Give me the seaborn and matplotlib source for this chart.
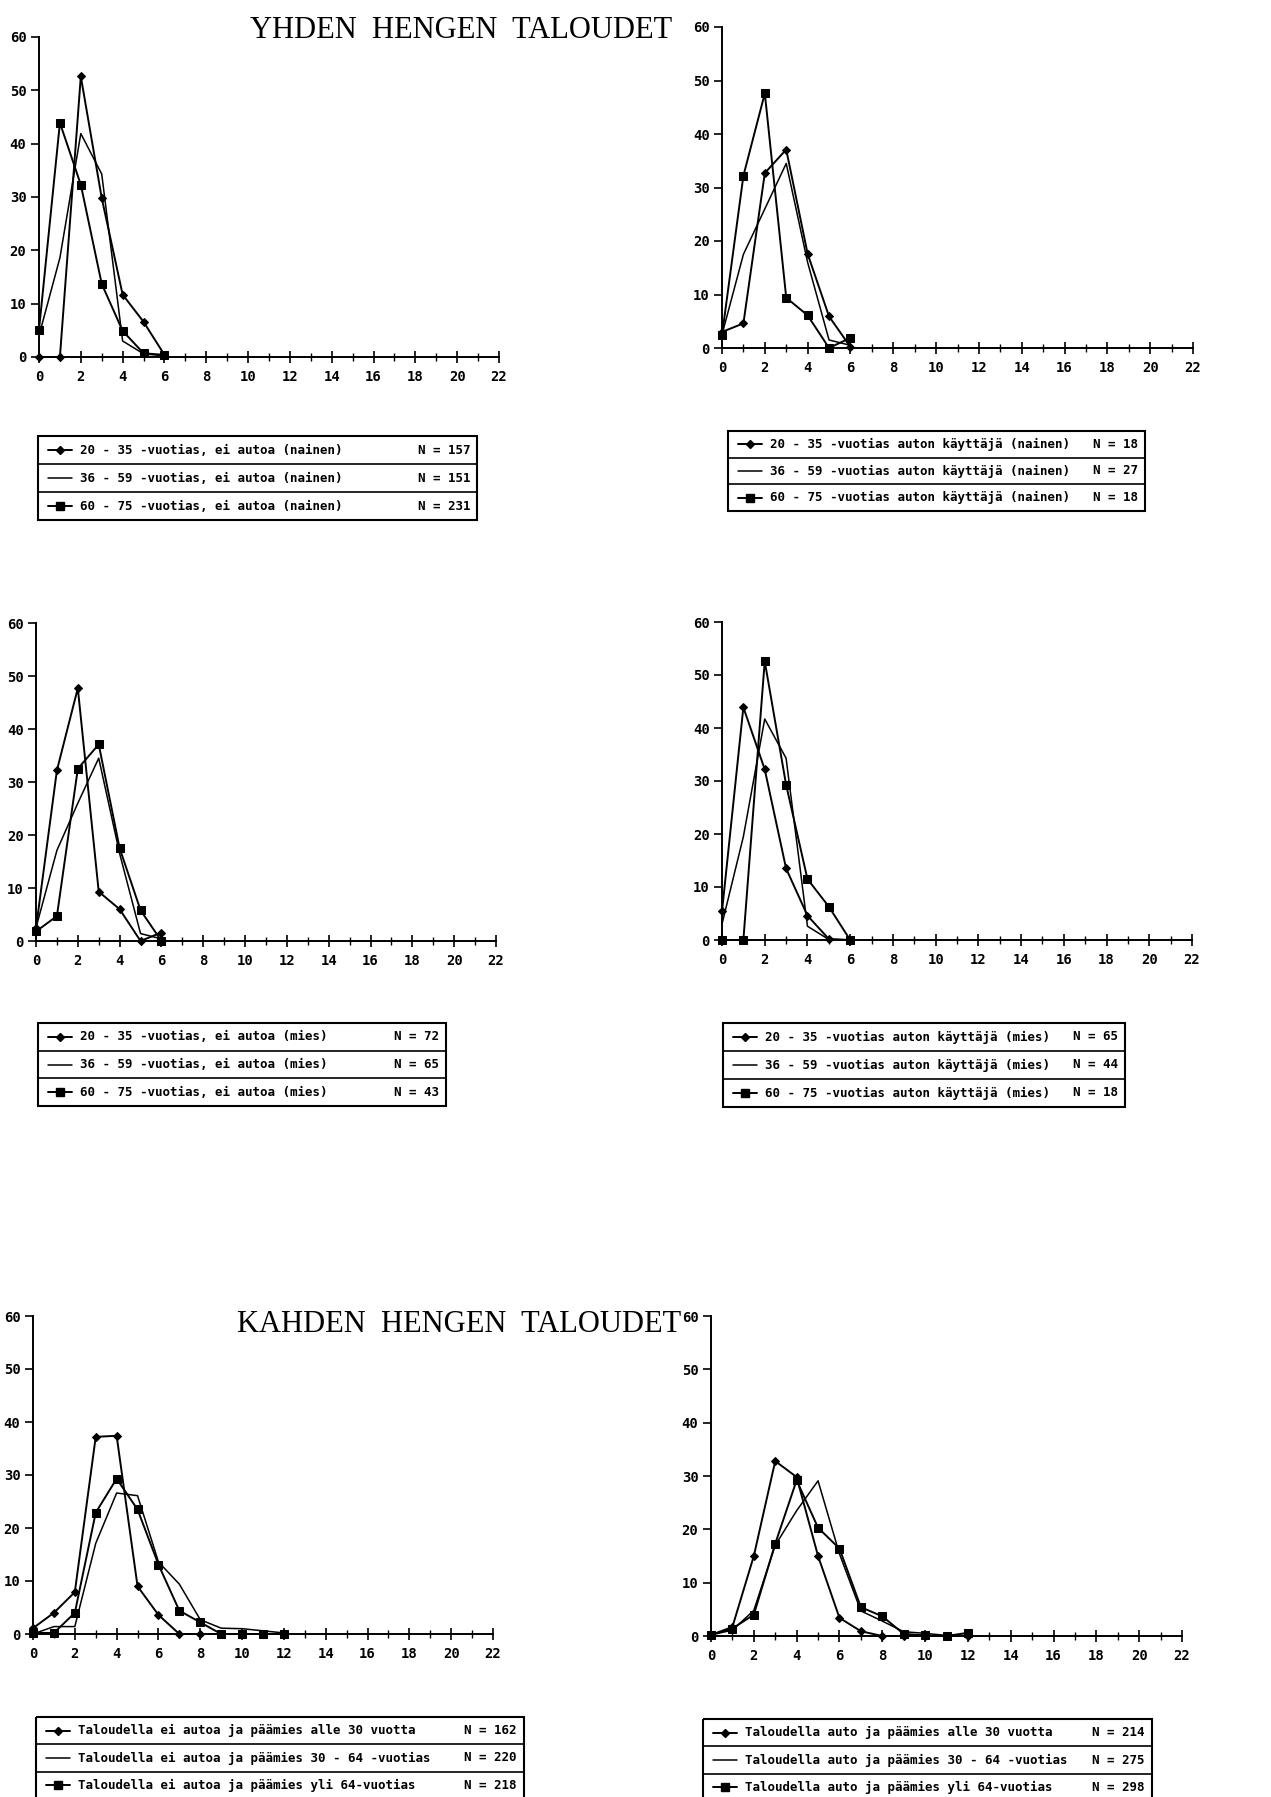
import matplotlib
matplotlib.use("Agg")
import matplotlib.pyplot as plt
from matplotlib.patches import Rectangle
from matplotlib.lines import Line2D
import numpy as np
import pandas as pd
import seaborn as sns

# ---------------- data ----------------
x_short = [0, 1, 2, 3, 4, 5, 6]
x_long = [0, 1, 2, 3, 4, 5, 6, 7, 8, 9, 10, 11, 12]

# YHDEN HENGEN TALOUDET - nainen, ei autoa
p1_a = [0.0, 0.0, 52.6, 29.8, 11.7, 6.6, 0.4]
p1_b = [4.0, 18.6, 41.9, 34.3, 3.0, 0.6, 0.2]
p1_c = [5.1, 43.9, 32.3, 13.7, 4.9, 0.7, 0.4]
# nainen, auton käyttäjä
p2_a = [3.0, 4.6, 32.7, 37.1, 17.6, 5.9, 0.2]
p2_b = [2.5, 17.5, 26.0, 34.5, 16.0, 1.5, 0.5]
p2_c = [2.4, 32.2, 47.6, 9.4, 6.1, 0.0, 1.9]
# mies, ei autoa
p3_a = [2.4, 32.2, 47.7, 9.3, 6.0, 0.0, 1.6]
p3_b = [2.5, 17.1, 26.0, 34.5, 16.5, 1.4, 0.4]
p3_c = [1.8, 4.7, 32.5, 37.1, 17.5, 5.8, 0.0]
# mies, auton käyttäjä
p4_a = [5.4, 43.9, 32.2, 13.5, 4.6, 0.2, 0.0]
p4_b = [3.0, 19.5, 41.7, 34.3, 2.6, 0.1, 0.0]
p4_c = [0.0, 0.0, 52.6, 29.3, 11.5, 6.3, 0.0]
# KAHDEN HENGEN TALOUDET - ei autoa
p5_a = [1.1, 4.0, 7.9, 37.2, 37.4, 9.0, 3.6, 0.0, 0.0, 0.0, 0.0, 0.0, 0.0]
p5_b = [0.0, 1.4, 1.4, 17.1, 26.6, 26.1, 13.6, 9.4, 2.7, 1.1, 1.0, 0.6, 0.2]
p5_c = [0.2, 0.2, 4.0, 22.9, 29.3, 23.5, 13.1, 4.4, 2.2, 0.0, 0.0, 0.0, 0.0]
# auto
p6_a = [0.2, 1.7, 15.0, 32.8, 29.8, 15.0, 3.4, 0.9, 0.0, 0.0, 0.0, 0.0, 0.0]
p6_b = [0.2, 1.1, 4.8, 17.0, 23.5, 29.1, 15.4, 4.7, 2.8, 0.8, 0.5, 0.1, 0.1]
p6_c = [0.2, 1.4, 4.0, 17.3, 29.2, 20.3, 16.4, 5.4, 3.7, 0.4, 0.1, 0.0, 0.6]

x_ticks = [0, 2, 4, 6, 8, 10, 12, 14, 16, 18, 20, 22]
x_ticklabels = [str(t) for t in x_ticks]
y_ticks = [0, 10, 20, 30, 40, 50, 60]
y_ticklabels = [str(t) for t in y_ticks]

legend1 = ["20 - 35 -vuotias, ei autoa (nainen)",
           "36 - 59 -vuotias, ei autoa (nainen)",
           "60 - 75 -vuotias, ei autoa (nainen)"]
n1 = ["N = 157", "N = 151", "N = 231"]
legend2 = ["20 - 35 -vuotias auton käyttäjä (nainen)",
           "36 - 59 -vuotias auton käyttäjä (nainen)",
           "60 - 75 -vuotias auton käyttäjä (nainen)"]
n2 = ["N = 18", "N = 27", "N = 18"]
legend3 = ["20 - 35 -vuotias, ei autoa (mies)",
           "36 - 59 -vuotias, ei autoa (mies)",
           "60 - 75 -vuotias, ei autoa (mies)"]
n3 = ["N = 72", "N = 65", "N = 43"]
legend4 = ["20 - 35 -vuotias auton käyttäjä (mies)",
           "36 - 59 -vuotias auton käyttäjä (mies)",
           "60 - 75 -vuotias auton käyttäjä (mies)"]
n4 = ["N = 65", "N = 44", "N = 18"]
legend5 = ["Taloudella ei autoa ja päämies alle 30 vuotta",
           "Taloudella ei autoa ja päämies 30 - 64 -vuotias",
           "Taloudella ei autoa ja päämies yli 64-vuotias"]
n5 = ["N = 162", "N = 220", "N = 218"]
legend6 = ["Taloudella auto ja päämies alle 30 vuotta",
           "Taloudella auto ja päämies 30 - 64 -vuotias",
           "Taloudella auto ja päämies yli 64-vuotias"]
n6 = ["N = 214", "N = 275", "N = 298"]

title_top = "YHDEN  HENGEN  TALOUDET"
title_bottom = "KAHDEN  HENGEN  TALOUDET"

# ---------------- style ----------------
sns.set_theme(style="ticks")
plt.rcParams['font.family'] = ['DejaVu Sans Mono', 'DejaVu Sans']
plt.rcParams['axes.facecolor'] = 'white'
plt.rcParams['figure.facecolor'] = 'white'
plt.rcParams['text.color'] = 'black'
plt.rcParams['xtick.color'] = 'black'
plt.rcParams['ytick.color'] = 'black'
plt.rcParams['axes.edgecolor'] = 'black'

W, H = 1271, 1797
fig = plt.figure(figsize=(W / 100, H / 100), dpi=100)

STYLES = [
    dict(marker='D', markersize=3.6, lw=1.4),
    dict(marker=None, lw=1.1),
    dict(marker='s', markersize=5.3, lw=1.4),
]

MONO = dict(family='DejaVu Sans Mono', weight='bold', color='black')


def panel(px_left, px_right, px_top, px_bottom, xs, series):
    ax = fig.add_axes([px_left / W, 1 - px_bottom / H,
                       (px_right - px_left) / W, (px_bottom - px_top) / H])
    for ys, st in zip(series, STYLES):
        df = pd.DataFrame({"x": xs, "y": ys})
        kw = dict(color='black', linewidth=st['lw'], clip_on=False)
        if st['marker']:
            kw.update(marker=st['marker'], markersize=st['markersize'],
                      markeredgecolor='black', markerfacecolor='black')
        sns.lineplot(data=df, x="x", y="y", ax=ax, estimator=None,
                     sort=False, **kw)
    ax.set_xlim(0, 22)
    ax.set_ylim(0, 60)
    ax.set_xticks(x_ticks)
    ax.set_xticklabels(x_ticklabels, fontsize=10, **MONO)
    ax.set_xticks(range(0, 23), minor=True)
    ax.set_yticks(y_ticks)
    ax.set_yticklabels(y_ticklabels, fontsize=10, **MONO)
    ax.tick_params(axis='x', which='major', direction='inout', length=9,
                   width=1.2, pad=5, colors='black')
    ax.tick_params(axis='x', which='minor', direction='inout', length=6,
                   width=1.0, colors='black')
    ax.tick_params(axis='y', which='major', direction='out', length=6,
                   width=1.2, pad=3, colors='black')
    for s in ('top', 'right'):
        ax.spines[s].set_visible(False)
    for s in ('left', 'bottom'):
        ax.spines[s].set_linewidth(1.4)
        ax.spines[s].set_color('black')
    ax.set_xlabel("")
    ax.set_ylabel("")
    ax.grid(False)
    return ax


def legend_box(l, t, r, b, labels, ns):
    ax = fig.add_axes([l / W, 1 - b / H, (r - l) / W, (b - t) / H])
    w, h = r - l, b - t
    ax.set_xlim(0, w)
    ax.set_ylim(h, 0)
    ax.axis('off')
    ax.add_patch(Rectangle((0, 0), w, h, fill=False, lw=1.5,
                           ec='black', clip_on=False))
    rh = h / 3.0
    for i in (1, 2):
        ax.add_line(Line2D([0, w], [i * rh, i * rh], color='black', lw=1.2))
    for i, (lab, n, st) in enumerate(zip(labels, ns, STYLES)):
        yc = (i + 0.5) * rh
        ax.add_line(Line2D([10, 34], [yc, yc], color='black', lw=st['lw']))
        if st['marker']:
            ax.add_line(Line2D([22], [yc], marker=st['marker'],
                               markersize=st['markersize'] + 0.5,
                               color='black', lw=0))
        ax.text(42, yc, lab, va='center', ha='left', fontsize=9.0, **MONO)
        ax.text(w - 7, yc, n, va='center', ha='right', fontsize=9.0, **MONO)
    return ax


panel(39, 499, 37, 357, x_short, [p1_a, p1_b, p1_c])
panel(722, 1193, 27, 348, x_short, [p2_a, p2_b, p2_c])
panel(36, 496, 623, 941, x_short, [p3_a, p3_b, p3_c])
panel(722, 1192, 622, 940, x_short, [p4_a, p4_b, p4_c])
panel(33, 493, 1316, 1634, x_long, [p5_a, p5_b, p5_c])
panel(711, 1182, 1316, 1636, x_long, [p6_a, p6_b, p6_c])

legend_box(38, 436, 477, 520, legend1, n1)
legend_box(728, 431, 1145, 511, legend2, n2)
legend_box(38, 1023, 446, 1106, legend3, n3)
legend_box(723, 1023, 1125, 1107, legend4, n4)
legend_box(36, 1717, 524, 1799, legend5, n5)
legend_box(703, 1719, 1152, 1801, legend6, n6)

fig.text(250 / W, 1 - 31 / H, title_top, ha='left', va='center',
         fontsize=22, family='Liberation Serif', color='black')
fig.text(237 / W, 1 - 1325 / H, title_bottom, ha='left', va='center',
         fontsize=22, family='Liberation Serif', color='black')

fig.savefig("out.png", dpi=100, facecolor='white')
